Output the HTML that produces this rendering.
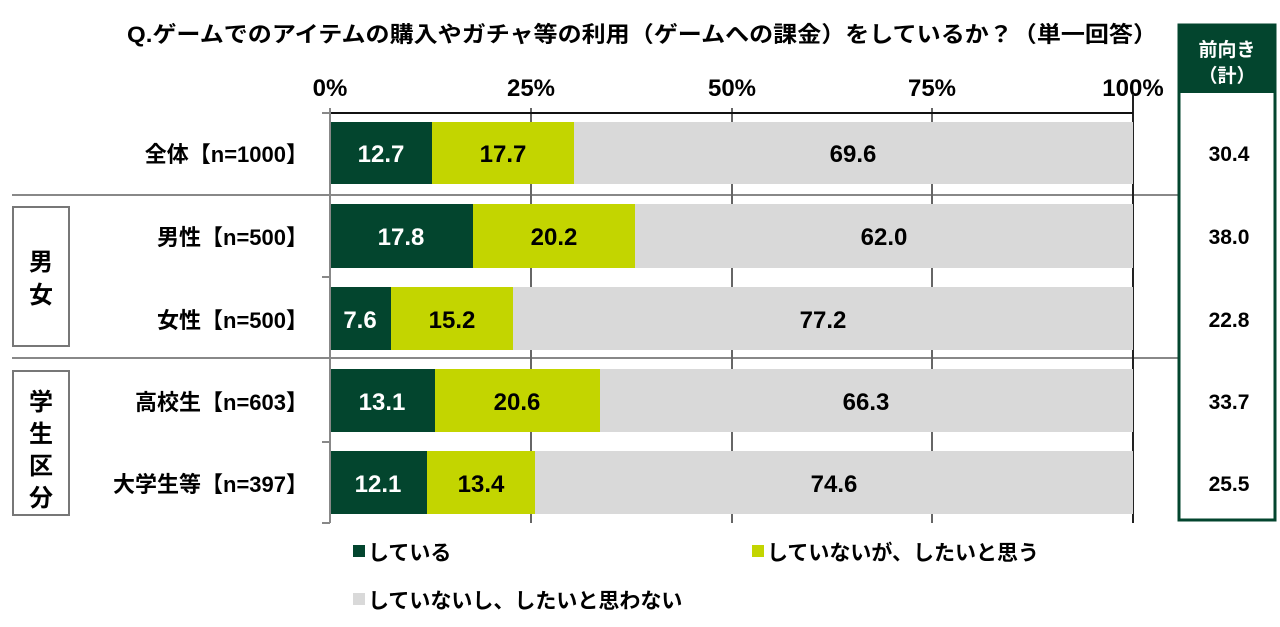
<!DOCTYPE html>
<html><head><meta charset="utf-8"><style>
html,body{margin:0;padding:0;background:#fff;}
svg text{font-family:"Liberation Sans","Noto Sans CJK JP",sans-serif;font-weight:bold;}
.n{font-family:"Liberation Sans Narrow","Liberation Sans","Noto Sans CJK JP",sans-serif;}
</style></head><body>
<svg width="1280" height="622" viewBox="0 0 1280 622" xmlns="http://www.w3.org/2000/svg">
<text x="642" y="42" text-anchor="middle" font-size="22" textLength="1030" lengthAdjust="spacingAndGlyphs">Q.ゲームでのアイテムの購入やガチャ等の利用（ゲームへの課金）をしているか？（単一回答）</text>
<g font-size="24" text-anchor="middle">
<text class="n" x="330" y="96">0%</text><text class="n" x="531" y="96">25%</text><text class="n" x="732" y="96">50%</text><text class="n" x="932" y="96">75%</text><text class="n" x="1133" y="96">100%</text></g>
<!-- separators -->
<line x1="12" y1="195" x2="1178" y2="195" stroke="#888" stroke-width="2"/>
<line x1="12" y1="358" x2="1178" y2="358" stroke="#888" stroke-width="2"/>
<!-- grid -->
<g stroke="#666" stroke-width="2">
<line x1="531" y1="108" x2="531" y2="523"/><line x1="732" y1="108" x2="732" y2="523"/><line x1="932" y1="108" x2="932" y2="523"/></g>
<line x1="1133" y1="94" x2="1133" y2="523" stroke="#222" stroke-width="2"/>
<!-- bars -->
<g>
<rect x="330" y="122" width="102" height="62" fill="#03452E"/><rect x="432" y="122" width="142" height="62" fill="#C3D500"/><rect x="574" y="122" width="559" height="62" fill="#D9D9D9"/>
<rect x="330" y="204" width="143" height="64" fill="#03452E"/><rect x="473" y="204" width="162" height="64" fill="#C3D500"/><rect x="635" y="204" width="498" height="64" fill="#D9D9D9"/>
<rect x="330" y="287" width="61" height="63" fill="#03452E"/><rect x="391" y="287" width="122" height="63" fill="#C3D500"/><rect x="513" y="287" width="620" height="63" fill="#D9D9D9"/>
<rect x="330" y="369" width="105" height="63" fill="#03452E"/><rect x="435" y="369" width="165" height="63" fill="#C3D500"/><rect x="600" y="369" width="533" height="63" fill="#D9D9D9"/>
<rect x="330" y="451" width="97" height="63" fill="#03452E"/><rect x="427" y="451" width="108" height="63" fill="#C3D500"/><rect x="535" y="451" width="598" height="63" fill="#D9D9D9"/>
</g>
<line x1="330" y1="113" x2="1133" y2="113" stroke="#111" stroke-width="2"/>
<line x1="330" y1="108" x2="330" y2="523" stroke="#888" stroke-width="2"/>
<g stroke="#888" stroke-width="2"><line x1="322" y1="113" x2="330" y2="113"/><line x1="322" y1="277" x2="330" y2="277"/><line x1="322" y1="442" x2="330" y2="442"/><line x1="322" y1="523" x2="330" y2="523"/></g>
<!-- values -->
<g font-size="24" text-anchor="middle">
<text class="n" x="381" y="162" fill="#fff">12.7</text><text class="n" x="503" y="162">17.7</text><text class="n" x="853" y="162">69.6</text>
<text class="n" x="401" y="245" fill="#fff">17.8</text><text class="n" x="554" y="245">20.2</text><text class="n" x="884" y="245">62.0</text>
<text class="n" x="360" y="328" fill="#fff">7.6</text><text class="n" x="452" y="328">15.2</text><text class="n" x="823" y="328">77.2</text>
<text class="n" x="382" y="410" fill="#fff">13.1</text><text class="n" x="517" y="410">20.6</text><text class="n" x="866" y="410">66.3</text>
<text class="n" x="378" y="492" fill="#fff">12.1</text><text class="n" x="481" y="492">13.4</text><text class="n" x="834" y="492">74.6</text>
</g>
<!-- category labels -->
<g font-size="22" text-anchor="end">
<text x="308" y="162">全体【n=1000】</text>
<text x="308" y="245">男性【n=500】</text>
<text x="308" y="328">女性【n=500】</text>
<text x="308" y="410">高校生【n=603】</text>
<text x="308" y="492">大学生等【n=397】</text>
</g>
<rect x="13" y="207" width="56" height="139" fill="none" stroke="#777" stroke-width="2"/>
<rect x="13" y="371" width="56" height="144" fill="none" stroke="#777" stroke-width="2"/>
<g font-size="24" text-anchor="middle">
<text x="41" y="270">男</text><text x="41" y="303">女</text>
<text x="41" y="410">学</text><text x="41" y="442">生</text><text x="41" y="474">区</text><text x="41" y="506">分</text>
</g>
<!-- right box -->
<rect x="1179" y="25" width="96" height="495" fill="#fff" stroke="#03452E" stroke-width="3"/>
<rect x="1179" y="25" width="96" height="68" fill="#03452E"/>
<text x="1227" y="56" font-size="19" fill="#fff" text-anchor="middle">前向き</text>
<text x="1227" y="82" font-size="19" fill="#fff" text-anchor="middle">（計）</text>
<g font-size="21" text-anchor="middle">
<text x="1229" y="161">30.4</text><text x="1229" y="244">38.0</text><text x="1229" y="327">22.8</text><text x="1229" y="409">33.7</text><text x="1229" y="491">25.5</text></g>
<!-- legend -->
<rect x="353" y="545" width="12" height="12" fill="#03452E"/><text x="368" y="560" font-size="21">している</text>
<rect x="752" y="545" width="12" height="12" fill="#C3D500"/><text x="767" y="560" font-size="21">していないが、したいと思う</text>
<rect x="353" y="593" width="12" height="12" fill="#D9D9D9"/><text x="368" y="608" font-size="21">していないし、したいと思わない</text>
</svg>
</body></html>
